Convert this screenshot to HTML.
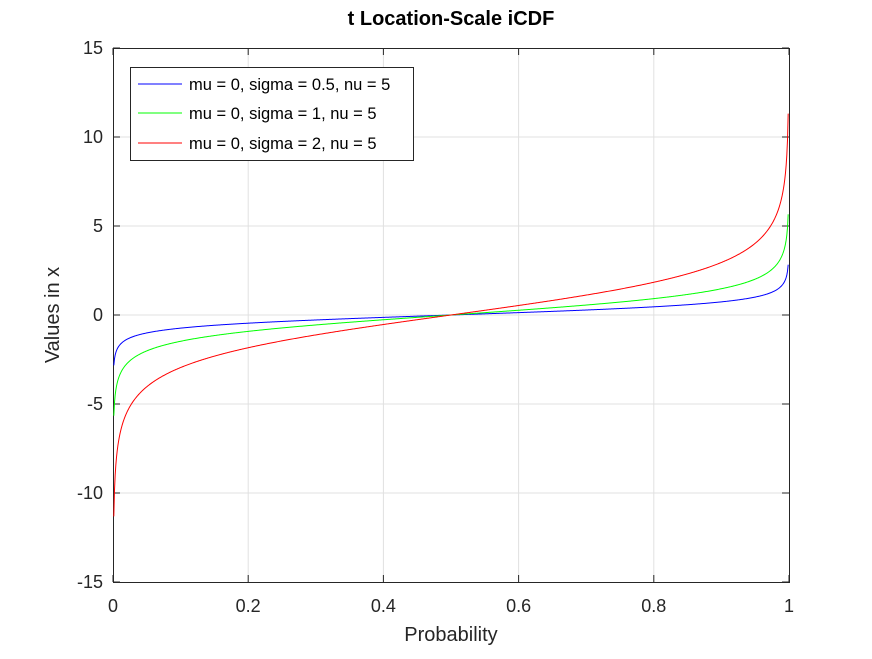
<!DOCTYPE html>
<html><head><meta charset="utf-8"><style>
body{margin:0;background:#fff;}
svg text{font-family:"Liberation Sans",sans-serif;}
</style></head><body>
<svg id="s" width="872" height="654" xmlns="http://www.w3.org/2000/svg">
<rect width="872" height="654" fill="#fff"/>
<g id="grid" stroke="#e0e0e0" stroke-width="1"></g>
<rect x="113.5" y="48.5" width="676" height="534" fill="none" stroke="#262626" stroke-width="1"/>
<g id="ticks" stroke="#262626"></g>
<g id="labels" font-size="18" fill="#262626"></g>
<g id="curves" fill="none" stroke-width="1"></g>
<text x="451" y="25" text-anchor="middle" font-size="20" font-weight="bold" fill="#000">t Location-Scale iCDF</text>
<text x="451" y="641" text-anchor="middle" font-size="20" fill="#262626">Probability</text>
<text transform="translate(59,315) rotate(-90)" text-anchor="middle" font-size="20" fill="#262626">Values in x</text>
<rect x="130.5" y="67.5" width="283" height="93" fill="#fff" stroke="#262626"/>
<line x1="138" y1="84" x2="182" y2="84" stroke="#0000ff"/>
<line x1="138" y1="113" x2="182" y2="113" stroke="#00ff00"/>
<line x1="138" y1="143" x2="182" y2="143" stroke="#ff0000"/>
<g font-size="16.5" fill="#000">
<text x="189" y="90">mu = 0, sigma = 0.5, nu = 5</text>
<text x="189" y="119">mu = 0, sigma = 1, nu = 5</text>
<text x="189" y="149">mu = 0, sigma = 2, nu = 5</text>
</g>
</svg>
<script>
var NS="http://www.w3.org/2000/svg";
function el(p,t,a,txt){var e=document.createElementNS(NS,t);for(var k in a)e.setAttribute(k,a[k]);if(txt!=null)e.textContent=txt;document.getElementById(p).appendChild(e);}
var x0=113,x1=789;
function X(p){return x0+(x1-x0)*p;}
function Y(v){return 315+(-v)*(534/30);}
for(var i=0;i<=5;i++){var px=X(i/5);
 if(i>0&&i<5)el("grid","line",{x1:px,y1:48,x2:px,y2:582});
 el("ticks","line",{x1:px,y1:582,x2:px,y2:575});el("ticks","line",{x1:px,y1:48,x2:px,y2:55});
 el("labels","text",{x:px,y:612,"text-anchor":"middle"},i==0?"0":i==5?"1":(i/5).toFixed(1));}
for(var v=-15;v<=15;v+=5){var py=Y(v);
 if(v>-15&&v<15)el("grid","line",{x1:113,y1:py,x2:789,y2:py});
 el("ticks","line",{x1:113,y1:py,x2:120,y2:py});el("ticks","line",{x1:789,y1:py,x2:782,y2:py});
 el("labels","text",{x:103,y:py+6,"text-anchor":"end"},String(v));}
function cdf(t){var th=Math.atan(t/Math.sqrt(5)),c=Math.cos(th),s=Math.sin(th);return 0.5+(th+s*c*(1+2/3*c*c))/Math.PI;}
function inv(p){var lo=-100,hi=100;for(var k=0;k<80;k++){var m=(lo+hi)/2;if(cdf(m)<p)lo=m;else hi=m;}return (lo+hi)/2;}
var q=[];var pmin=0.0012;for(var i=0;i<=996;i++){var p=pmin+(1-2*pmin)*i/996;q.push([p,inv(p)]);}
[[0.5,"#0000ff"],[1,"#00ff00"],[2,"#ff0000"]].forEach(function(c){
 var d="";q.forEach(function(a,j){d+=(j?"L":"M")+X(a[0]).toFixed(2)+" "+Y(a[1]*c[0]).toFixed(2);});
 el("curves","path",{d:d,stroke:c[1]});});
</script>
</body></html>
